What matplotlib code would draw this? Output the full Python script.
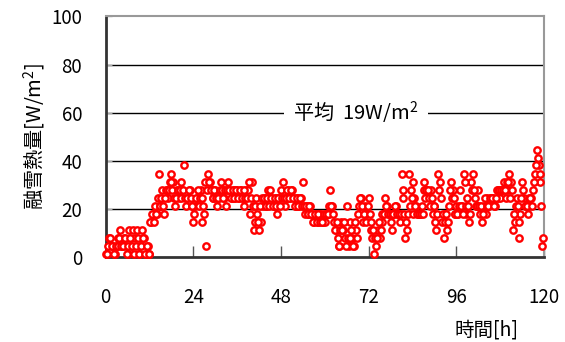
import matplotlib
matplotlib.use('Agg')
import matplotlib.pyplot as plt
import numpy as np

plt.rcParams['font.family'] = ['Noto Sans CJK JP', 'DejaVu Sans']

# snow melting heat [W/m2], values on the full and half hour, one row = 5 hours
heat = [
    1, 1, 8, 4.5, 4.5, 1, 4.5, 8, 11, 4.5,
    8, 4.5, 1, 11, 4.5, 11, 8, 11, 1, 4.5,
    11, 8, 1, 4.5, 1, 14.5, 18, 21, 18, 34.5,
    21, 28, 18, 28, 24.5, 31, 34.5, 31, 21, 28,
    24.5, 31, 28, 38, 21, 24.5, 28, 21, 14.5, 21,
    24.5, 21, 28, 14.5, 18, 4.5, 34.5, 31, 28, 24.5,
    28, 21, 24.5, 31, 28, 24.5, 21, 31, 28, 24.5,
    28, 24.5, 28, 24.5, 28, 24.5, 21, 28, 28, 18,
    31, 11, 14.5, 18, 11, 14.5, 21, 24.5, 21, 28,
    28, 24.5, 21, 24.5, 18, 24.5, 28, 31, 21, 24.5,
    28, 24.5, 28, 24.5, 21, 24.5, 21, 24.5, 31, 18,
    21, 18, 21, 18, 14.5, 18, 14.5, 18, 18, 14.5,
    14.5, 18, 18, 28, 21, 14.5, 11, 8, 4.5, 14.5,
    11, 8, 21, 4.5, 14.5, 8, 4.5, 11, 18, 21,
    24.5, 14.5, 21, 18, 24.5, 11, 8, 1, 4.5, 11,
    8, 14.5, 18, 24.5, 21, 18, 14.5, 11, 18, 21,
    18, 14.5, 34.5, 24.5, 8, 11, 34.5, 28, 31, 24.5,
    21, 18, 18, 21, 31, 24.5, 28, 24.5, 28, 18,
    21, 11, 34.5, 31, 14.5, 8, 18, 11, 21, 31,
    28, 18, 21, 18, 28, 21, 34.5, 18, 24.5, 14.5,
    31, 34.5, 24.5, 21, 28, 18, 14.5, 21, 18, 24.5,
    21, 24.5, 24.5, 21, 28, 24.5, 24.5, 28, 31, 24.5,
    28, 34.5, 31, 11, 14.5, 24.5, 8, 18, 31, 24.5,
    21, 18, 21, 24.5, 28, 34.5, 44.5, 38, 31, 4.5,
]
# values a quarter hour later than each entry of heat
heat_q = [
    1, 4.5, 8, 4.5, 1, 4.5, 4.5, 8, 4.5, 4.5,
    8, 1, 4.5, 8, 4.5, 1, 4.5, 8, 1, 4.5,
    8, 1, 4.5, 1, 14.5, 18, 14.5, 18, 24.5, 21,
    24.5, 21, 24.5, 28, 28, 31, 28, 24.5, 24.5, 28,
    28, 24.5, 28, 24.5, 24.5, 28, 24.5, 21, 18, 24.5,
    28, 24.5, 24.5, 21, 31, 28, 31, 28, 24.5, 28,
    24.5, 24.5, 28, 28, 24.5, 28, 28, 28, 24.5, 28,
    24.5, 28, 24.5, 28, 24.5, 28, 24.5, 24.5, 31, 24.5,
    21, 21, 24.5, 14.5, 21, 24.5, 24.5, 21, 24.5, 21,
    24.5, 21, 24.5, 21, 24.5, 21, 24.5, 24.5, 24.5, 28,
    24.5, 28, 24.5, 21, 24.5, 21, 24.5, 21, 21, 21,
    18, 21, 18, 14.5, 18, 14.5, 18, 14.5, 14.5, 18,
    18, 18, 21, 21, 18, 11, 14.5, 4.5, 11, 11,
    14.5, 4.5, 8, 8, 11, 4.5, 14.5, 8, 21, 24.5,
    21, 18, 14.5, 21, 18, 14.5, 11, 8, 8, 14.5,
    11, 18, 18, 21, 18, 18, 18, 18, 21, 18,
    18, 18, 28, 18, 14.5, 18, 21, 24.5, 18, 21,
    18, 18, 18, 18, 28, 28, 28, 21, 24.5, 21,
    14.5, 18, 28, 24.5, 18, 14.5, 18, 14.5, 28, 24.5,
    24.5, 18, 18, 21, 21, 18, 31, 21, 21, 18,
    28, 28, 21, 21, 21, 21, 18, 24.5, 21, 21,
    24.5, 24.5, 21, 24.5, 28, 28, 28, 28, 28, 31,
    31, 24.5, 28, 18, 21, 21, 14.5, 24.5, 28, 21,
    21, 24.5, 24.5, 21, 31, 38, 41, 34.5, 21, 8,
]
hours = np.arange(len(heat)) * 0.5
hours_q = hours + 0.25

mean_label = '平均  19W/m$\\mathregular{^2}$'
x_ticks = [0, 24, 48, 72, 96, 120]
y_ticks = [0, 20, 40, 60, 80, 100]

fig = plt.figure(figsize=(5.65, 3.42), dpi=100)
ax = fig.add_axes([0.187, 0.249, 0.776, 0.703])

for y in [20, 40, 60, 80]:
    ax.axhline(y, color='black', lw=1.0, zorder=1)

marker = dict(marker='o', ls='none', ms=4.6, mfc='white', mec='#ff0000',
              mew=1.7, zorder=3, clip_on=False)
ax.plot(hours, heat, **marker)
ax.plot(hours_q, heat_q, **marker)

ax.text(68.5, 60, mean_label, ha='center', va='center', fontsize=14.5,
        zorder=2, bbox=dict(facecolor='white', edgecolor='none', pad=7))

ax.set_xlim(0, 120)
ax.set_ylim(0, 100)
ax.set_xticks(x_ticks)
ax.set_yticks(y_ticks)
ax.tick_params(axis='x', direction='in', length=8, width=1, color='#555555',
               pad=22, labelsize=13.5)
ax.tick_params(axis='y', direction='in', length=4, width=1, color='#aaaaaa',
               pad=17, labelsize=13.5)

for s in ['left', 'bottom']:
    ax.spines[s].set_color('#333333')
    ax.spines[s].set_linewidth(2)
for s in ['top', 'right']:
    ax.spines[s].set_color('#999999')
    ax.spines[s].set_linewidth(1.5)

ax.set_ylabel('融雪熱量[W/m$\\mathregular{^2}$]', fontsize=14.5, labelpad=2)
fig.text(0.917, 0.035, '時間[h]', ha='right', va='center', fontsize=14)

fig.savefig('out.png', dpi=100)
